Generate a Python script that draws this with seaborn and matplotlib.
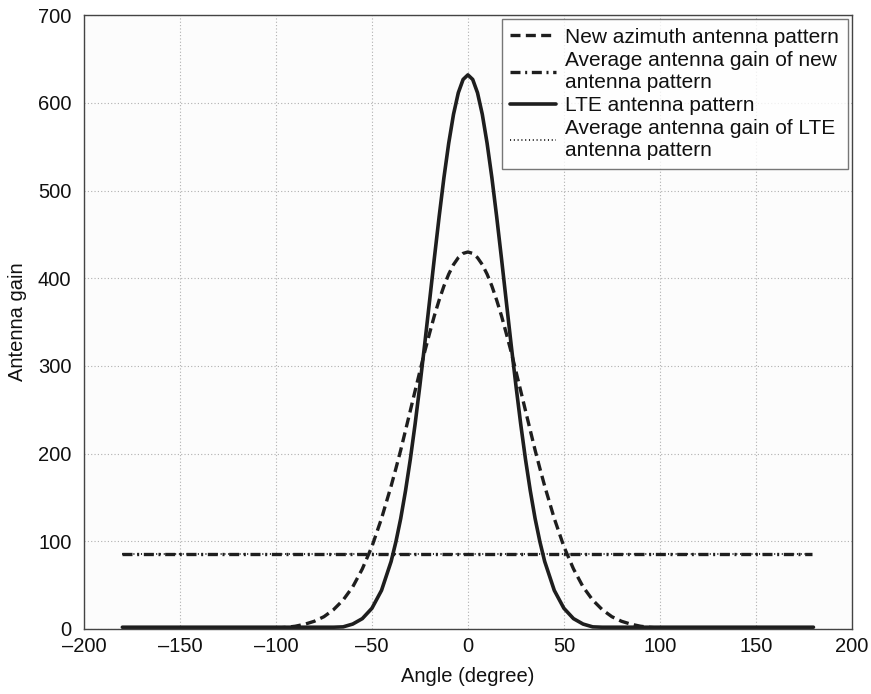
import numpy as np
import pandas as pd
import seaborn as sns
import matplotlib.pyplot as plt

# angles in degrees: 5 degree steps on the flanks, 2.5 degree steps near the peak
angles = (list(range(-180, -40, 5))
          + [-40, -37.5, -35, -32.5, -30, -27.5, -25, -22.5, -20, -17.5, -15, -12.5,
             -10, -7.5, -5, -2.5, 0, 2.5, 5, 7.5, 10, 12.5, 15, 17.5, 20, 22.5, 25,
             27.5, 30, 32.5, 35, 37.5, 40]
          + list(range(45, 181, 5)))

# new azimuth antenna pattern
new_half = ([0.5] * 16 + [1, 1.8, 3.1, 5.4, 8.8, 14, 22, 33, 48, 68.5, 94, 126]
            + [163, 183.1, 204, 226.5, 249, 271.7, 294, 316.3, 337, 357.1, 375,
               391.1, 404.7, 415.6, 423.5, 428.4])
new_gain = new_half + [430] + new_half[::-1]

# LTE antenna pattern
lte_half = ([2] * 23 + [2.4, 5.6, 11.8, 23.6, 44]
            + [77, 99.5, 126, 157.6, 193.5, 233.8, 278, 324.8, 373.5, 422.5, 470,
               514.6, 554, 587, 611.6, 626.8])
lte_gain = lte_half + [632] + lte_half[::-1]

avg_x = [-180, 179]
avg_new = [86, 86]
avg_lte = [86, 86]

sns.set_style("white")
plt.rcParams['font.family'] = ['Liberation Sans', 'DejaVu Sans']
plt.rcParams['text.color'] = "#111111"
plt.rcParams['axes.labelcolor'] = "#111111"
plt.rcParams['xtick.color'] = "#111111"
plt.rcParams['ytick.color'] = "#111111"

fig = plt.figure(figsize=(8.71, 6.94), dpi=100)
ax = fig.add_axes([0.0964, 0.0937, 0.8816, 0.8843])
ax.set_facecolor("#fcfcfc")

lc = "#1e1e1e"
sns.lineplot(x=angles, y=new_gain, ax=ax, color=lc, lw=2.4, linestyle=(0, (3.0, 1.6)),
             label="New azimuth antenna pattern")
sns.lineplot(x=avg_x, y=avg_new, ax=ax, color=lc, lw=2.4, linestyle=(0, (3.0, 1.4, 0.6, 1.4)),
             label="Average antenna gain of new\nantenna pattern")
sns.lineplot(x=angles, y=lte_gain, ax=ax, color=lc, lw=2.6, linestyle="-",
             label="LTE antenna pattern")
sns.lineplot(x=avg_x, y=avg_lte, ax=ax, color=lc, lw=1.3, linestyle=(0, (0.6, 1.5)),
             label="Average antenna gain of LTE\nantenna pattern")

ax.set_xlim(-200, 200)
ax.set_ylim(0, 700)
ax.set_xticks(range(-200, 201, 50))
ax.set_yticks(range(0, 701, 100))
ax.set_xticklabels([str(t).replace("-", "\u2013") for t in range(-200, 201, 50)])
ax.grid(True, color="#b0b0b0", linestyle=(0, (1, 2)), linewidth=0.8)
ax.tick_params(direction="in", length=5, labelsize=14.5, color="#444444", pad=6)
ax.tick_params(axis="y", pad=9)
for s in ax.spines.values():
    s.set_color("#444444")
    s.set_linewidth(1.0)

ax.set_xlabel("Angle (degree)", fontsize=14.5, labelpad=8)
ax.set_ylabel("Antenna gain", fontsize=14.5, labelpad=8)

leg = ax.legend(loc="upper right", fontsize=15, frameon=True, fancybox=False,
                edgecolor="#555555", handlelength=2.2, handletextpad=0.45,
                labelspacing=0.2, borderpad=0.4, borderaxespad=0.2)
leg.get_frame().set_linewidth(1.0)

fig.savefig("out.png", dpi=100)
